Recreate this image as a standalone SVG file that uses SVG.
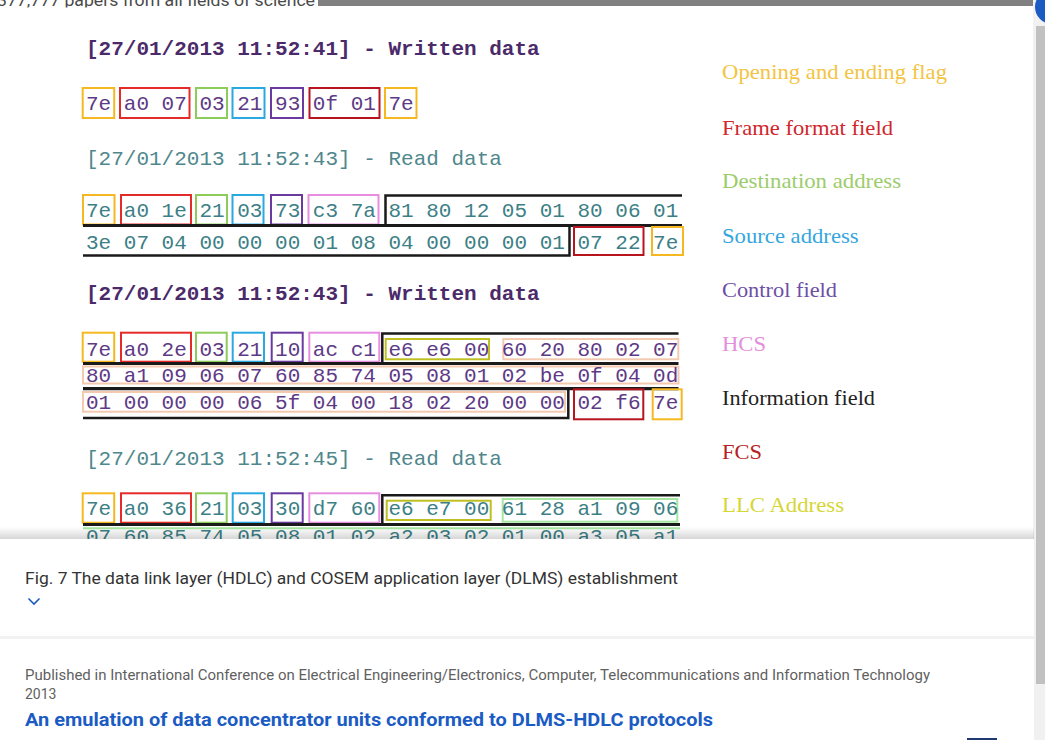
<svg xmlns="http://www.w3.org/2000/svg" width="1045" height="740" viewBox="0 0 1045 740">
<defs>
<linearGradient id="shadow" x1="0" y1="0" x2="0" y2="1">
<stop offset="0" stop-color="#000" stop-opacity="0"/>
<stop offset="1" stop-color="#000" stop-opacity="0.16"/>
</linearGradient>
<style>
.hex{font-family:"Liberation Mono","Courier New",monospace;font-size:21px;white-space:pre}
.w{fill:#5e3a86}
.r{fill:#3d7f86}
.hw{fill:#4b2a6a;font-weight:bold}
.hr{fill:#4f878c}
.bx{fill:none;stroke-width:2}
.flag{stroke:#f5b820}
.frame{stroke:#e52a2a}
.dest{stroke:#8ccc5a}
.src{stroke:#2aa8e0}
.ctrl{stroke:#6a3aa0}
.hcs{stroke:#e88ee0}
.fcs{stroke:#b8141e}
.llc{stroke:#bfbf22}
.peach{stroke:#f3c9b0}
.green{stroke:#a6e6a0}
.info{fill:none;stroke:#1a1a1a}
.leg{font-family:"Liberation Serif","Times New Roman",serif;font-size:22px}
.ui{font-family:Roboto,"Liberation Sans",Arial,sans-serif}
</style>
</defs>
<rect width="1045" height="740" fill="#fff"/>
<!-- top strip -->
<rect x="318" y="0" width="717" height="6" fill="#808080"/>
<text class="ui" x="-3" y="5.5" font-size="17" fill="#4a4a4a" textLength="318" lengthAdjust="spacingAndGlyphs">377,777 papers from all fields of science</text>
<rect x="0" y="7.5" width="1035" height="2" fill="#fff"/>
<!-- scrollbar -->
<rect x="1033" y="0" width="12" height="740" fill="#f1f1f1"/>
<rect x="1036" y="26" width="9" height="658" fill="#c1c1c1"/>
<circle cx="1052" cy="7" r="17" fill="#1a5bc4"/>

<g id="frame1">
<text class="hex hw" x="86" y="54.5">[27/01/2013 11:52:41] - Written data</text>
<text class="hex w" x="86" y="110">7e a0 07 03 21 93 0f 01 7e</text>
<rect class="bx flag" x="82.7" y="88" width="31.5" height="30"/>
<rect class="bx frame" x="120" y="88" width="69.5" height="30"/>
<rect class="bx dest" x="196" y="88" width="31" height="30"/>
<rect class="bx src" x="232.5" y="88" width="32" height="30"/>
<rect class="bx ctrl" x="271" y="88" width="32" height="30"/>
<rect class="bx fcs" x="309.5" y="88" width="70" height="30"/>
<rect class="bx flag" x="385" y="88" width="31.5" height="30"/>
</g>

<g id="frame2">
<text class="hex hr" x="86" y="164.5">[27/01/2013 11:52:43] - Read data</text>
<text class="hex r" x="86" y="217">7e a0 1e 21 03 73 c3 7a 81 80 12 05 01 80 06 01</text>
<text class="hex r" x="86" y="248.5">3e 07 04 00 00 00 01 08 04 00 00 00 01 07 22 7e</text>
<rect class="bx flag" x="83" y="195" width="31.5" height="29.5"/>
<rect class="bx frame" x="121" y="195" width="70" height="29.5"/>
<rect class="bx dest" x="196" y="195" width="31" height="29.5"/>
<rect class="bx src" x="232.5" y="195" width="31" height="29.5"/>
<rect class="bx ctrl" x="271" y="195" width="31" height="29.5"/>
<rect class="bx hcs" x="308.5" y="195" width="70" height="29.5"/>
<path class="info" stroke-width="2.5" d="M385.5,224 V195.5 H682"/>
<path class="info" stroke-width="3" d="M83,225.5 H682"/>
<path class="info" stroke-width="2.5" d="M83,255.5 H569.5 V226"/>
<rect class="bx fcs" x="574" y="227" width="69.5" height="28"/>
<rect class="bx flag" x="652" y="227" width="31" height="28"/>
</g>

<g id="frame3">
<text class="hex hw" x="86" y="299.5">[27/01/2013 11:52:43] - Written data</text>
<rect class="bx peach" x="503.3" y="339" width="175" height="20.3"/>
<rect class="bx peach" x="83" y="366.5" width="595.5" height="17"/>
<rect class="bx peach" x="83" y="392" width="482" height="19.7"/>
<text class="hex w" x="86" y="355.5">7e a0 2e 03 21 10 ac c1 e6 e6 00 60 20 80 02 07</text>
<text class="hex w" x="86" y="382">80 a1 09 06 07 60 85 74 05 08 01 02 be 0f 04 0d</text>
<text class="hex w" x="86" y="408.5">01 00 00 00 06 5f 04 00 18 02 20 00 00 02 f6 7e</text>
<rect class="bx flag" x="82.7" y="332.7" width="31.5" height="29"/>
<rect class="bx frame" x="121" y="332.7" width="70" height="29"/>
<rect class="bx dest" x="196" y="332.7" width="30.7" height="29"/>
<rect class="bx src" x="232.7" y="332.7" width="31.3" height="29"/>
<rect class="bx ctrl" x="271.7" y="332.7" width="31" height="29"/>
<rect class="bx hcs" x="309.3" y="332.7" width="70" height="29"/>
<rect class="bx llc" x="385.7" y="339" width="103.3" height="20.3"/>
<path class="info" stroke-width="2.5" d="M382.3,363 V333.5 H678.5"/>
<path class="info" stroke-width="3.2" d="M83,363.5 H678.5"/>
<path class="info" stroke-width="3.4" d="M83,388.6 H678.5"/>
<path class="info" stroke-width="2.5" d="M83,418 H568.3 V389"/>
<rect class="bx fcs" x="574" y="389.3" width="69.3" height="30"/>
<rect class="bx flag" x="652.7" y="389.3" width="29" height="30"/>
</g>

<g id="frame4">
<text class="hex hr" x="86" y="464.5">[27/01/2013 11:52:45] - Read data</text>
<rect class="bx green" x="502.7" y="499" width="174.6" height="22.7"/>
<path class="bx green" d="M83,528.3 H680"/>
<text class="hex r" x="86" y="515">7e a0 36 21 03 30 d7 60 e6 e7 00 61 28 a1 09 06</text>
<text class="hex r" x="86" y="543">07 60 85 74 05 08 01 02 a2 03 02 01 00 a3 05 a1</text>
<rect class="bx flag" x="82.7" y="493.3" width="31.5" height="29.4"/>
<rect class="bx frame" x="121" y="493.3" width="70" height="29.4"/>
<rect class="bx dest" x="196" y="493.3" width="30.7" height="29.4"/>
<rect class="bx src" x="232.7" y="493.3" width="31.3" height="29.4"/>
<rect class="bx ctrl" x="271.7" y="493.3" width="31" height="29.4"/>
<rect class="bx hcs" x="309.3" y="493.3" width="70" height="29.4"/>
<rect class="bx llc" x="386.7" y="500.7" width="104" height="19.3"/>
<path class="info" stroke-width="2.5" d="M382.3,524 V495.3 H680"/>
<path class="info" stroke-width="3.2" d="M83,524.5 H680"/>
</g>

<g id="legend">
<text class="leg" x="722" y="79.3" fill="#f3c443" textLength="225" lengthAdjust="spacingAndGlyphs">Opening and ending flag</text>
<text class="leg" x="722" y="135" fill="#d0262c" textLength="171" lengthAdjust="spacingAndGlyphs">Frame format field</text>
<text class="leg" x="722" y="188.3" fill="#9ccc6c" textLength="179" lengthAdjust="spacingAndGlyphs">Destination address</text>
<text class="leg" x="722" y="242.7" fill="#35a6dd" textLength="136.6" lengthAdjust="spacingAndGlyphs">Source address</text>
<text class="leg" x="722" y="296.7" fill="#6d4fa6" textLength="115" lengthAdjust="spacingAndGlyphs">Control field</text>
<text class="leg" x="722" y="350.7" fill="#e38fdc" textLength="44" lengthAdjust="spacingAndGlyphs">HCS</text>
<text class="leg" x="722" y="405" fill="#222" textLength="153" lengthAdjust="spacingAndGlyphs">Information field</text>
<text class="leg" x="722" y="459" fill="#b51f25" textLength="40" lengthAdjust="spacingAndGlyphs">FCS</text>
<text class="leg" x="722" y="511.7" fill="#d6d636" textLength="122" lengthAdjust="spacingAndGlyphs">LLC Address</text>
</g>

<g id="caption">
<rect x="0" y="527" width="1034" height="12" fill="url(#shadow)"/>
<rect x="0" y="539" width="1034" height="97" fill="#fff"/>
<rect x="0" y="636" width="1034" height="3" fill="#f2f2f2"/>
<rect x="0" y="639" width="1034" height="101" fill="#fff"/>
<text class="ui" x="25" y="583.5" font-size="16" fill="#333" textLength="653" lengthAdjust="spacingAndGlyphs">Fig. 7 The data link layer (HDLC) and COSEM application layer (DLMS) establishment</text>
<polyline points="28.5,598.5 34,604 39.5,598.5" fill="none" stroke="#1a5bc4" stroke-width="1.6"/>
<text class="ui" x="25" y="679.5" font-size="14" fill="#5f5f5f" textLength="905" lengthAdjust="spacingAndGlyphs">Published in International Conference on Electrical Engineering/Electronics, Computer, Telecommunications and Information Technology</text>
<text class="ui" x="25" y="699" font-size="14" fill="#5f5f5f">2013</text>
<text class="ui" x="25" y="726" font-size="18" font-weight="bold" fill="#1a5bc4" textLength="688" lengthAdjust="spacingAndGlyphs">An emulation of data concentrator units conformed to DLMS-HDLC protocols</text>
<rect x="967" y="738" width="30" height="2" fill="#1f3a70"/>
</g>
<g id="connectors"/>
</svg>
